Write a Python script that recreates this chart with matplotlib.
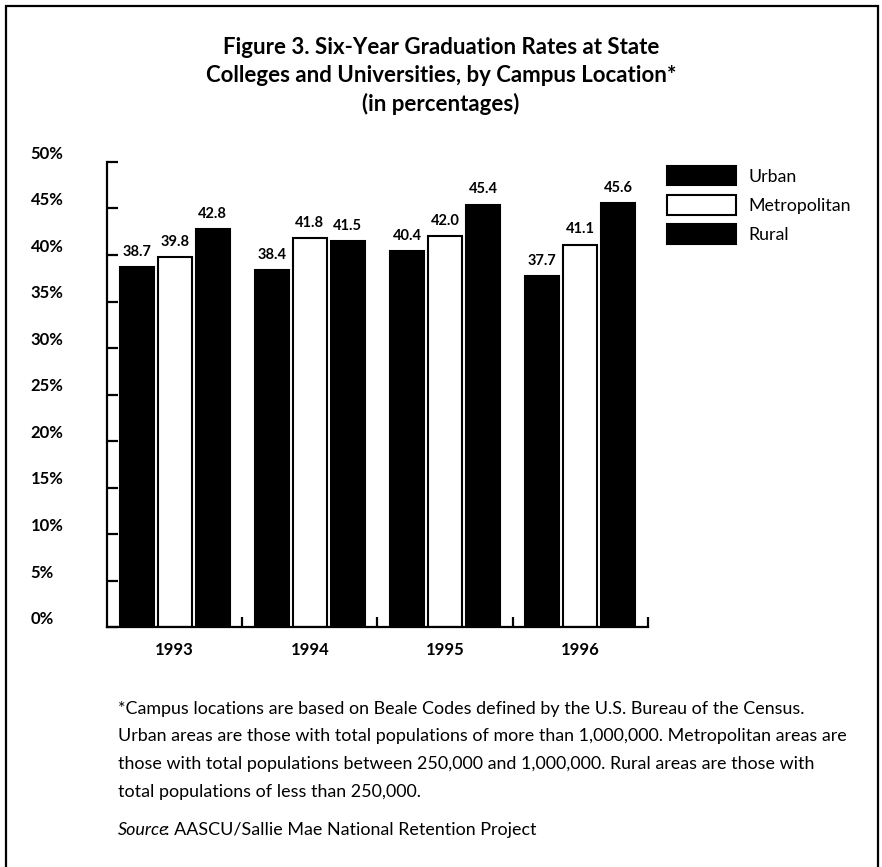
import numpy as np
import matplotlib
matplotlib.use("Agg")
import matplotlib.pyplot as plt
from matplotlib.patches import Patch, Rectangle

plt.rcParams['font.family'] = ['Lato', 'DejaVu Sans']

# Dane: sześcioletnie wskaźniki ukończenia studiów (%)
years = ["1993", "1994", "1995", "1996"]
series = ["Urban", "Metropolitan", "Rural"]
urban = [38.7, 38.4, 40.4, 37.7]
metropolitan = [39.8, 41.8, 42.0, 41.1]
rural = [42.8, 41.5, 45.4, 45.6]
yticks = [0, 5, 10, 15, 20, 25, 30, 35, 40, 45, 50]
ytick_labels = [f"{t}%" for t in yticks]

title_lines = [
    "Figure 3. Six-Year Graduation Rates at State",
    "Colleges and Universities, by Campus Location*",
    "(in percentages)",
]
note_lines = [
    "*Campus locations are based on Beale Codes defined by the U.S. Bureau of the Census.",
    "Urban areas are those with total populations of more than 1,000,000. Metropolitan areas are",
    "those with total populations between 250,000 and 1,000,000. Rural areas are those with",
    "total populations of less than 250,000.",
]
source_text = "AASCU/Sallie Mae National Retention Project"

W, H = 882, 867
fig = plt.figure(figsize=(W / 100, H / 100), dpi=100)

# ramka wokół całej ryciny
fig.add_artist(Rectangle((6 / W, -0.05), 872 / W, 1.05 - 6 / H,
                         transform=fig.transFigure, fill=False,
                         edgecolor='black', linewidth=1.6))

for i, line in enumerate(title_lines):
    fig.text(0.5, 1 - (47 + 28.5 * i) / H, line, ha='center', va='center',
             fontsize=16, fontweight='bold')

ax = fig.add_axes([107 / W, 1 - 627 / H, 541 / W, 465 / H])

x = np.arange(len(years))
step = 0.281
width = 0.252
styles = [('black', 'black'), ('white', 'black'), ('black', 'black')]
for k, (vals, (fc, ec)) in enumerate(zip([urban, metropolitan, rural], styles)):
    bars = ax.bar(x + (k - 1) * step, vals, width, color=fc, edgecolor=ec,
                  linewidth=1.5, label=series[k])
    for b, v in zip(bars, vals):
        ax.annotate(f"{v:.1f}", (b.get_x() + b.get_width() / 2, v),
                    xytext=(0, 6), textcoords='offset points',
                    ha='center', va='bottom', fontsize=10.5, fontweight='bold')

ax.set_xlim(-0.5, 3.5)
ax.set_ylim(0, 50)
for s in ['top', 'right']:
    ax.spines[s].set_visible(False)
for s in ['left', 'bottom']:
    ax.spines[s].set_linewidth(1.6)

ax.set_yticks(yticks)
ax.set_yticklabels(ytick_labels)
ax.tick_params(axis='y', direction='in', length=8, width=1.6, pad=55,
               labelsize=12)
for lbl in ax.get_yticklabels():
    lbl.set_horizontalalignment('left')
    lbl.set_verticalalignment('bottom')
    lbl.set_fontweight('bold')

ax.set_xticks(x)
ax.set_xticklabels(years, fontsize=12, fontweight='bold')
ax.tick_params(axis='x', which='major', length=0, pad=11)
ax.set_xticks(x + 0.5, minor=True)
ax.tick_params(axis='x', which='minor', direction='in', length=7, width=1.6)

handles = [Patch(facecolor=fc, edgecolor=ec, linewidth=1.5) for fc, ec in styles]
ax.legend(handles, series, loc='upper left',
          bbox_to_anchor=(667 / W, 1 - 166 / H), bbox_transform=fig.transFigure,
          frameon=False, fontsize=12.8, handlelength=3.9, handleheight=1.3,
          labelspacing=0.55, handletextpad=0.7, borderpad=0, borderaxespad=0)

for i, line in enumerate(note_lines):
    fig.text(118 / W, 1 - (709 + 27.5 * i) / H, line, ha='left', va='center',
             fontsize=12.9)

src = fig.text(118 / W, 1 - 830 / H, "Source", ha='left', va='center',
               fontsize=12.9, style='italic')
ax.annotate(": " + source_text, xy=(1, 0), xycoords=src, ha='left',
            va='bottom', fontsize=12.9, xytext=(-2.5, 0),
            textcoords='offset points')

fig.savefig("out.png", dpi=100)
